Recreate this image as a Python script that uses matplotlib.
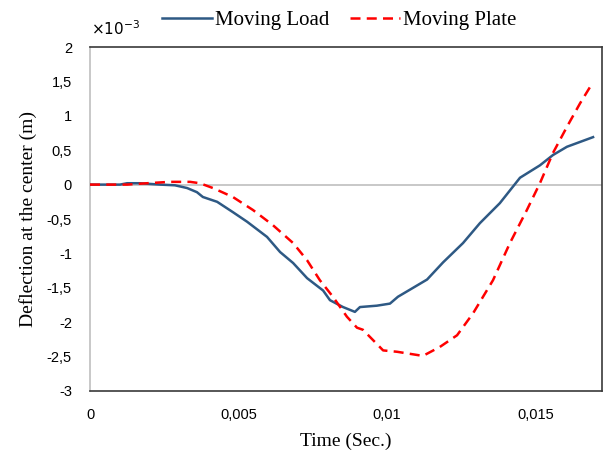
import matplotlib.pyplot as plt
from matplotlib.ticker import FuncFormatter

# deflection values are in units of 1e-3 m
time_load = [0, 0.00101, 0.00125, 0.00168, 0.00236, 0.00286, 0.00327, 0.0036, 0.0038,
             0.00428, 0.00481, 0.00529, 0.00596, 0.0064, 0.00684, 0.00731, 0.00785,
             0.00808, 0.00852, 0.00892, 0.00909, 0.00966, 0.0101, 0.01037, 0.01088,
             0.01135, 0.01189, 0.01256, 0.01313, 0.0138, 0.01448, 0.01515, 0.01559,
             0.01606, 0.0165, 0.01694]
defl_load = [0, 0, 0.02, 0.02, 0.0, -0.01, -0.05, -0.11, -0.18,
             -0.25, -0.40, -0.54, -0.76, -0.98, -1.14, -1.36, -1.54,
             -1.68, -1.78, -1.85, -1.78, -1.76, -1.73, -1.63, -1.50,
             -1.38, -1.13, -0.85, -0.56, -0.27, 0.10, 0.28, 0.43,
             0.55, 0.62, 0.69]

time_plate = [0, 0.00125, 0.00192, 0.00269, 0.00337, 0.0037, 0.00414, 0.00481, 0.00549,
              0.00616, 0.00684, 0.00731, 0.00774, 0.00818, 0.00865, 0.00899, 0.00919,
              0.00987, 0.01034, 0.01121, 0.01178, 0.01236, 0.0129, 0.01357, 0.01414,
              0.01471, 0.01515, 0.01559, 0.01606, 0.0165, 0.01684]
defl_plate = [0, 0, 0.02, 0.04, 0.04, 0.02, -0.05, -0.18, -0.37,
              -0.59, -0.85, -1.10, -1.39, -1.63, -1.92, -2.08, -2.11,
              -2.41, -2.43, -2.49, -2.36, -2.19, -1.87, -1.39, -0.85,
              -0.37, 0.02, 0.46, 0.84, 1.18, 1.42]

x_ticks = [0, 0.005, 0.01, 0.015]
y_ticks = [-3, -2.5, -2, -1.5, -1, -0.5, 0, 0.5, 1, 1.5, 2]

fig = plt.figure(figsize=(6.05, 4.53), dpi=100)
ax = fig.add_axes([0.1488, 0.1369, 0.8462, 0.7593])

ax.axhline(0, color='#bfbfbf', lw=1.2, zorder=1)
ax.plot(time_load, defl_load, color='#2e5984', lw=1.8, label='Moving Load', zorder=3)
ax.plot(time_plate, defl_plate, color='#ff0000', lw=1.8, ls=(0, (4, 2.5)),
        label='Moving Plate', zorder=3)

ax.set_xlim(0, 0.01724)
ax.set_ylim(-3, 2)
ax.set_xticks(x_ticks)
ax.set_yticks(y_ticks)

def comma(v, pos):
    s = ('%g' % v).replace('.', ',')
    return s

ax.xaxis.set_major_formatter(FuncFormatter(comma))
ax.yaxis.set_major_formatter(FuncFormatter(comma))
ax.tick_params(length=0, labelsize=10.5)
ax.tick_params(axis='x', pad=12)
ax.tick_params(axis='y', pad=13)
for lab in ax.get_xticklabels() + ax.get_yticklabels():
    lab.set_family('Liberation Sans')

for s in ['top', 'right', 'bottom']:
    ax.spines[s].set_color('#3a3a3a')
    ax.spines[s].set_linewidth(1.2)
ax.spines['left'].set_color('#bfbfbf')
ax.spines['left'].set_linewidth(1.2)

ax.set_xlabel('Time (Sec.)', family='Liberation Serif', fontsize=14)
ax.set_ylabel('Deflection at the center (m)', family='Liberation Serif', fontsize=14)
ax.xaxis.set_label_coords(0.5, -0.122)
ax.yaxis.set_label_coords(-0.1035, 0.5)

fig.text(116 / 605, 1 - 29 / 453, r'$\times10^{-3}$', fontsize=11, family='Liberation Sans',
         ha='center', va='center')

fig.legend(loc='center', bbox_to_anchor=(339 / 605, 1 - 20 / 453), ncol=2, frameon=False,
           prop={'family': 'Liberation Serif', 'size': 15}, handlelength=2.4,
           handletextpad=0.15, columnspacing=1.0, borderpad=0)

fig.savefig('out.png', dpi=100)
